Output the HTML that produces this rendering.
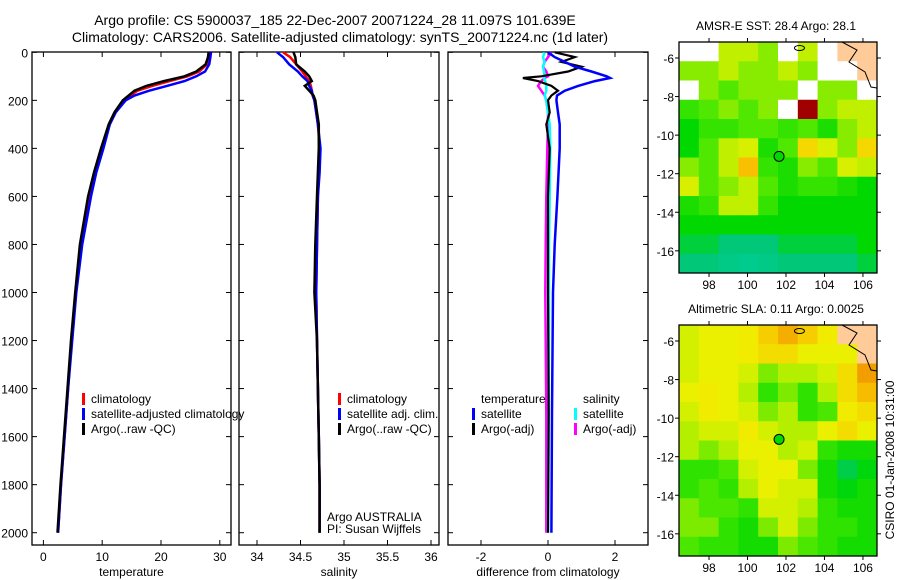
<!DOCTYPE html>
<html><head><meta charset="utf-8"><style>
body{margin:0;background:#fff}
svg{display:block;font-family:"Liberation Sans",sans-serif}
</style></head><body>
<svg id="fig" width="900" height="580" viewBox="0 0 900 580">
<text x="335" y="25" font-size="14" text-anchor="middle">Argo profile: CS 5900037_185 22-Dec-2007 20071224_28 11.097S 101.639E</text>
<text x="340" y="42" font-size="14" text-anchor="middle">Climatology: CARS2006. Satellite-adjusted climatology: synTS_20071224.nc (1d later)</text>
<g id="g1"></g>
<g id="g2"></g>
<g id="g3"></g>
<g id="m1"></g>
<g id="m2"></g>
<text transform="translate(894,460) rotate(-90)" font-size="12" text-anchor="middle">CSIRO 01-Jan-2008 10:31:00</text>
</svg>
<script>
const depth=[0,20,50,80,100,120,140,160,180,200,250,300,400,500,600,800,1000,1200,1400,1600,1800,2000];
const tClim=[28.2,28.1,27.8,26.5,24.5,21.5,18.5,16,14.8,13.8,12.3,11.2,10,8.8,7.8,6.4,5.5,4.8,4.2,3.6,3.0,2.5];
const tSat=[28.5,28.4,28.2,27.5,26,24,21,18,15.5,14,12.3,11.3,10.2,9,8.1,6.6,5.6,4.9,4.2,3.6,3.0,2.5];
const tArgo=[28.1,28,27.6,26,24,20.5,17.5,15.5,14.5,13.5,12.1,11.1,9.8,8.6,7.6,6.2,5.4,4.7,4.1,3.5,2.9,2.4];
const sClim=[34.3,34.38,34.45,34.52,34.56,34.6,34.62,34.63,34.64,34.66,34.68,34.7,34.72,34.71,34.7,34.69,34.68,34.69,34.7,34.71,34.72,34.72];
const sSat=[34.23,34.3,34.37,34.47,34.52,34.58,34.6,34.63,34.64,34.66,34.68,34.7,34.73,34.72,34.7,34.69,34.68,34.69,34.7,34.71,34.72,34.72];
const sArgo=[34.42,34.44,34.45,34.55,34.6,34.63,34.55,34.6,34.65,34.67,34.69,34.71,34.71,34.7,34.69,34.67,34.66,34.69,34.7,34.71,34.72,34.72];
const dDepth=[0,20,40,60,80,100,107,120,140,160,180,200,250,300,400,600,800,1000,1500,2000];
const dTSat=[0,0.2,0.5,0.8,1.3,1.75,1.85,1.4,0.9,0.5,0.27,0.25,0.3,0.35,0.35,0.28,0.2,0.15,0.12,0.1];
const dTArgo=[0.2,0.8,0.4,1.0,0.6,-0.2,-0.75,-0.3,0.1,0.3,0.1,0,0.05,-0.05,0.05,0,0,0,0.02,0];
const dSSat=[-0.1,-0.15,-0.1,-0.15,-0.12,-0.1,-0.12,-0.08,-0.05,-0.05,-0.1,-0.05,0,0.05,0.07,0.05,0.03,0.03,0.02,0];
const dSArgo=[0.1,0.0,-0.1,-0.15,-0.05,0.0,-0.1,-0.2,-0.3,-0.2,-0.1,-0.05,0.0,0.0,-0.02,-0.05,-0.07,-0.08,-0.05,-0.05];
const depthTicks=[0,200,400,600,800,1000,1200,1400,1600,1800,2000];
const tTicks=[0,10,20,30];
const sTicks=[34,34.5,35,35.5,36];
const dTicks=[-2,0,2];
const N=null,L=-1;
const sstGrid=[
[N,N,.55,.55,.5,N,.55,N,L,L],
[.5,.5,.55,.5,.5,.55,.5,N,N,L],
[N,.5,.45,.5,.5,.5,N,.5,.5,N],
[.4,.45,.5,.45,.5,N,1.0,.5,.55,.55],
[.3,.4,.4,.45,.45,.4,.45,.35,.5,.55],
[.3,.45,.55,.6,.35,.45,.7,.6,.5,.7],
[.5,.45,.55,.75,.4,.35,.5,.45,.6,.55],
[.6,.45,.5,.55,.45,.35,.4,.4,.35,.3],
[.35,.4,.55,.55,.4,.3,.3,.3,.3,.3],
[.3,.3,.3,.3,.3,.3,.3,.3,.3,.3],
[.25,.25,.2,.2,.2,.25,.25,.25,.25,.3],
[.2,.2,.15,.12,.15,.2,.2,.2,.2,.25]];
const slaGrid=[
[.55,.6,.6,.62,.68,.75,.68,.62,L,L],
[.55,.6,.6,.62,.65,.65,.6,.6,.6,L],
[.55,.6,.6,.55,.45,.5,.5,.55,.65,.78],
[.6,.62,.6,.5,.35,.45,.35,.5,.65,.72],
[.55,.62,.6,.55,.45,.5,.35,.4,.62,.65],
[.5,.55,.55,.62,.55,.5,.5,.6,.65,.6],
[.5,.45,.5,.6,.6,.5,.55,.35,.3,.3],
[.35,.35,.4,.55,.6,.6,.45,.3,.2,.25],
[.35,.4,.35,.5,.6,.55,.55,.3,.25,.3],
[.45,.4,.4,.35,.55,.55,.5,.35,.3,.3],
[.45,.45,.35,.3,.45,.55,.45,.35,.35,.3],
[.4,.35,.35,.3,.3,.45,.4,.35,.3,.3]];
const lonTicks=[98,100,102,104,106];
const latTicks=[-6,-8,-10,-12,-14,-16];
const argoLon=101.64, argoLat=-11.1;

const NS='http://www.w3.org/2000/svg';
function mk(p,t,a){const e=document.createElementNS(NS,t);for(const k in a)e.setAttribute(k,a[k]);p.appendChild(e);return e;}
const yD=d=>52.3+d*0.2402;
const pTop=52,pBot=545;
function panel(g,x0,x1,xs,ticks,lab,showY){
  mk(g,'rect',{x:x0,y:pTop,width:x1-x0,height:pBot-pTop,fill:'none',stroke:'#000','stroke-width':1.3});
  ticks.forEach(v=>{const x=xs(v);
    let l=mk(g,'line',{x1:x,x2:x,y1:pBot,y2:pBot-5,stroke:'#000'});
    
    
    mk(g,'line',{x1:x,x2:x,y1:pTop,y2:pTop+5,stroke:'#000'});
    let t=mk(g,'text',{x:x,y:pBot+16,'font-size':12,'text-anchor':'middle'});t.textContent=String(v);
    
    });
  depthTicks.forEach(d=>{const y=yD(d);
    mk(g,'line',{x1:x0,x2:x0+5,y1:y,y2:y,stroke:'#000'});mk(g,'line',{x1:x1,x2:x1-5,y1:y,y2:y,stroke:'#000'});
    if(showY){let t=mk(g,'text',{x:x0-4,y:y+5,'font-size':12,'text-anchor':'end'});t.textContent=String(d);
    
    }});
  let t=mk(g,'text',{x:(x0+x1)/2,y:576,'font-size':12,'text-anchor':'middle'});t.textContent=lab;
  
  
}
function line(g,xs,ds,vs,col,w,name){
  const pts=vs.map((v,i)=>xs(v).toFixed(1)+','+yD(ds[i]).toFixed(1)).join(' ');
  const p=mk(g,'polyline',{points:pts,fill:'none',stroke:col,'stroke-width':w});
  
  
}
function legend(g,x,y,col,txt){
  if(col)mk(g,'rect',{x:x,y:y-10,width:3,height:12,fill:col});
  const t=mk(g,'text',{x:x+9,y:y,'font-size':12});t.textContent=txt;
  
  
}
const g1=document.getElementById('g1');const xT=v=>43.4+v*5.88;
panel(g1,32,231,xT,tTicks,'temperature',true);
line(g1,xT,depth,tClim,'#f00',2.5,'climatology-temp-line');
line(g1,xT,depth,tSat,'#00f',2.5,'satellite-temp-line');
line(g1,xT,depth,tArgo,'#000',2.5,'argo-temp-line');
legend(g1,82,403,'#f00','climatology');legend(g1,82,418,'#00f','satellite-adjusted climatology');legend(g1,82,433,'#000','Argo(..raw -QC)');
const g2=document.getElementById('g2');const xS=v=>257+(v-34)*87;
panel(g2,239,439,xS,sTicks,'salinity',false);
line(g2,xS,depth,sClim,'#f00',2.5,'climatology-salinity-line');
line(g2,xS,depth,sSat,'#00f',2.5,'satellite-salinity-line');
line(g2,xS,depth,sArgo,'#000',2.5,'argo-salinity-line');
legend(g2,338,403,'#f00','climatology');legend(g2,338,418,'#00f','satellite adj. clim.');legend(g2,338,433,'#000','Argo(..raw -QC)');
[['Argo AUSTRALIA',521],['PI: Susan Wijffels',533]].forEach(a=>{const t=mk(g2,'text',{x:327,y:a[1],'font-size':12});t.textContent=a[0];

});
const g3=document.getElementById('g3');const xD=v=>548+v*33.5;
panel(g3,448,648,xD,dTicks,'difference from climatology',false);
line(g3,xD,dDepth,dSArgo,'#f0f',2.5,'salinity-argo-diff-line');
line(g3,xD,dDepth,dSSat,'#0ff',2.5,'salinity-satellite-diff-line');
line(g3,xD,dDepth,dTArgo,'#000',2.2,'temperature-argo-diff-line');
line(g3,xD,dDepth,dTSat,'#00f',2.5,'temperature-satellite-diff-line');
legend(g3,472,403,null,'temperature');legend(g3,472,418,'#00f','satellite');legend(g3,472,433,'#000','Argo(-adj)');
legend(g3,574,403,null,'salinity');legend(g3,574,418,'#0ff','satellite');legend(g3,574,433,'#f0f','Argo(-adj)');
const stops=[[0,[0,208,176]],[0.2,[0,200,120]],[0.3,[0,216,0]],[0.45,[80,232,0]],[0.55,[192,240,0]],[0.65,[240,240,0]],[0.75,[248,192,0]],[0.85,[240,144,0]],[1,[160,0,0]]];
function cmap(v){v=Math.max(0,Math.min(1,v));for(let i=1;i<stops.length;i++){if(v<=stops[i][0]){const a=stops[i-1],b=stops[i],f=(v-a[0])/(b[0]-a[0]);return 'rgb('+a[1].map((c,k)=>Math.round(c+(b[1][k]-c)*f)).join(',')+')';}}return 'rgb(160,0,0)';}
function drawMap(g,ytop,grid,title,shift){
  const x0=679,x1=877,y1=ytop+231,lon0=96.44,lon1=106.73,lat0=-5.17,lat1=-17.15;
  const xs=l=>x0+(l-lon0)/(lon1-lon0)*(x1-x0), ys=l=>ytop+(l-lat0)/(lat1-lat0)*(y1-ytop);
  const cw=(x1-x0)/grid[0].length,ch=(y1-ytop)/grid.length;
  grid.forEach((row,r)=>row.forEach((v,c)=>{
    const fill=v===null?'#fff':(v===L?'#ffcc99':cmap(v+shift));
    const e=mk(g,'rect',{x:x0+c*cw,y:ytop+r*ch,width:cw+0.5,height:ch+0.5,fill:fill});
    
    }));
  mk(g,'path',{d:`M${x1-35},${ytop} L${x1-20},${ytop+8} L${x1-28},${ytop+20} L${x1-12},${ytop+30} L${x1-6},${ytop+45} L${x1},${ytop+46}`,fill:'none',stroke:'#000','stroke-width':1});
  mk(g,'ellipse',{cx:xs(102.7),cy:ytop+6,rx:5,ry:2.5,fill:'none',stroke:'#000'});
  mk(g,'rect',{x:x0,y:ytop,width:x1-x0,height:y1-ytop,fill:'none',stroke:'#000','stroke-width':1.3});
  const m=mk(g,'circle',{cx:xs(argoLon),cy:ys(argoLat),r:5,fill:'#00d800',stroke:'#000'});
  
  
  lonTicks.forEach(l=>{const x=xs(l);mk(g,'line',{x1:x,x2:x,y1:y1,y2:y1+4,stroke:'#000'});mk(g,'line',{x1:x,x2:x,y1:ytop,y2:ytop-4,stroke:'#000'});
    const t=mk(g,'text',{x:x,y:y1+16,'font-size':12,'text-anchor':'middle'});t.textContent=String(l);
    
    });
  latTicks.forEach(l=>{const y=ys(l);mk(g,'line',{x1:x0,x2:x0-4,y1:y,y2:y,stroke:'#000'});mk(g,'line',{x1:x1,x2:x1+4,y1:y,y2:y,stroke:'#000'});
    const t=mk(g,'text',{x:x0-5,y:y+5,'font-size':12,'text-anchor':'end'});t.textContent=String(l);
    
    });
  const t=mk(g,'text',{x:776,y:ytop-12,'font-size':12,'text-anchor':'middle'});t.textContent=title;
  
  
}
drawMap(document.getElementById('m1'),42,sstGrid,'AMSR-E SST: 28.4  Argo: 28.1',0);
drawMap(document.getElementById('m2'),325,slaGrid,'Altimetric SLA: 0.11  Argo: 0.0025',0.04);
</script>
</body></html>
